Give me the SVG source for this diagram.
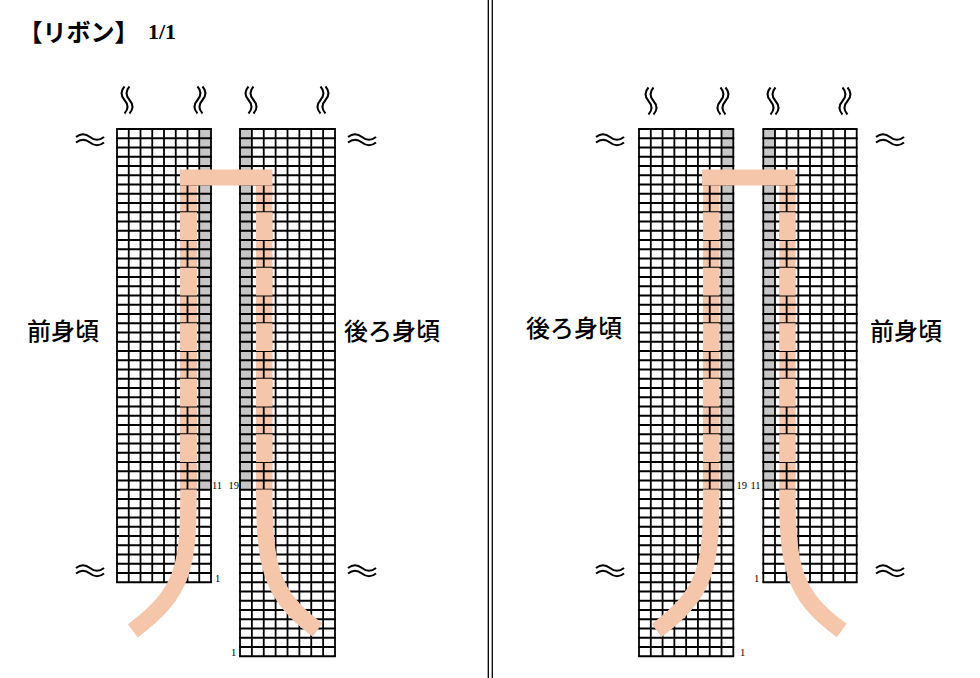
<svg xmlns="http://www.w3.org/2000/svg" width="980" height="678" viewBox="0 0 980 678">
<style>
.grid{fill:none;stroke:#000;stroke-width:1.8}
.hl{fill:none;stroke:#000;stroke-dasharray:1.8 7.45}
.cell{fill:#fff}
.gray{fill:#c6c6c6}
.rib{fill:#f6c6ab}
.tail{fill:none;stroke:#f6c6ab;stroke-width:16.5;stroke-linecap:butt}
.brk{fill:none;stroke:#000;stroke-width:2}
.jp{font-family:"Noto Sans CJK JP","Noto Sans",sans-serif;fill:#000}
.lbl{font-size:24px;font-weight:500}
.num{font-family:"Liberation Serif","Times New Roman",serif;font-size:10.5px;fill:#000}
.div{stroke:#000;stroke-width:1.3}
</style>
<defs>
<path id="hw" d="M0,0Q7,-5.5 14,0T28,0M0,5.5Q7,0 14,5.5T28,5.5"/>
<path id="vw" d="M0,0Q-6,6.75 0,13.5T0,27M5,0Q-1,6.75 5,13.5T5,27"/>
</defs>
<rect width="980" height="678" fill="#fff"/>

<g id="title">
<text class="jp" x="18.5" y="41" font-size="24" font-weight="bold">【リボン】</text>
<text x="148" y="39" font-family="'Liberation Serif','Times New Roman',serif" font-size="22" font-weight="bold">1/1</text>
</g>

<g id="divider">
<line class="div" x1="488.3" y1="0" x2="488.3" y2="678"/>
<line class="div" x1="492.3" y1="0" x2="492.3" y2="678"/>
</g>

<!-- LEFT PANEL -->
<g id="grid-front-left">
<rect class="cell" x="117" y="129" width="94" height="453.25"/>
<rect class="gray" x="199.25" y="129" width="11.75" height="360.75"/>
<rect class="rib" x="180" y="184.5" width="17" height="305.25"/>
<line class="hl" x1="164" y1="128.1" x2="164" y2="583.15" stroke-width="95.8"/>
<path class="grid" d="M117,129v453.25m11.75,-453.25v453.25m11.75,-453.25v453.25m11.75,-453.25v453.25m11.75,-453.25v453.25m11.75,-453.25v453.25m11.75,-453.25v453.25m11.75,-453.25v453.25m11.75,-453.25v453.25"/>
<text class="num" x="212" y="488.5">11</text>
<text class="num" x="215" y="582">1</text>
</g>

<g id="grid-back-left">
<rect class="cell" x="240" y="129" width="95" height="527.25"/>
<rect class="gray" x="240" y="129" width="11.875" height="360.75"/>
<rect class="rib" x="256" y="184.5" width="16.5" height="305.25"/>
<line class="hl" x1="287.5" y1="128.1" x2="287.5" y2="657.15" stroke-width="96.8"/>
<path class="grid" d="M240,129v527.25m11.875,-527.25v527.25m11.875,-527.25v527.25m11.875,-527.25v527.25m11.875,-527.25v527.25m11.875,-527.25v527.25m11.875,-527.25v527.25m11.875,-527.25v527.25m11.875,-527.25v527.25"/>
<text class="num" x="228.5" y="488.5">19</text>
<text class="num" x="231" y="656">1</text>
</g>

<g id="ribbon-left">
<rect class="rib" x="180" y="212.25" width="17" height="27.75"/>
<rect class="rib" x="180" y="267.75" width="17" height="27.75"/>
<rect class="rib" x="180" y="323.25" width="17" height="27.75"/>
<rect class="rib" x="180" y="378.75" width="17" height="27.75"/>
<rect class="rib" x="180" y="434.25" width="17" height="27.75"/>
<rect class="rib" x="256" y="212.25" width="16.5" height="27.75"/>
<rect class="rib" x="256" y="267.75" width="16.5" height="27.75"/>
<rect class="rib" x="256" y="323.25" width="16.5" height="27.75"/>
<rect class="rib" x="256" y="378.75" width="16.5" height="27.75"/>
<rect class="rib" x="256" y="434.25" width="16.5" height="27.75"/>
<rect class="rib" x="180" y="169.5" width="92.5" height="16"/>
<path class="tail" d="M188.5,489.5C188.5,565 185,592 132.8,630.8"/>
<path class="tail" d="M264.25,489.5C264.25,565 270,595 317.5,630"/>
</g>

<g id="marks-left">
<use href="#vw" class="brk" transform="translate(124.5,86.5)"/>
<use href="#vw" class="brk" transform="translate(202.5,86.5) scale(-1,1)"/>
<use href="#vw" class="brk" transform="translate(248.5,86.5)"/>
<use href="#vw" class="brk" transform="translate(325.5,86.5) scale(-1,1)"/>
<use href="#hw" class="brk" transform="translate(76,137)"/>
<use href="#hw" class="brk" transform="translate(348,137)"/>
<use href="#hw" class="brk" transform="translate(76,568)"/>
<use href="#hw" class="brk" transform="translate(348,568)"/>
</g>

<g id="label-front-left"><text class="jp lbl" x="27" y="340">前身頃</text></g>
<g id="label-back-left"><text class="jp lbl" x="344" y="340">後ろ身頃</text></g>

<!-- RIGHT PANEL -->
<g id="grid-back-right">
<rect class="cell" x="639" y="129" width="94.3" height="527.25"/>
<rect class="gray" x="721.51" y="129" width="11.79" height="360.75"/>
<rect class="rib" x="703" y="184.5" width="16.5" height="305.25"/>
<line class="hl" x1="686.15" y1="128.1" x2="686.15" y2="657.15" stroke-width="96.1"/>
<path class="grid" d="M639,129v527.25m11.7875,-527.25v527.25m11.7875,-527.25v527.25m11.7875,-527.25v527.25m11.7875,-527.25v527.25m11.7875,-527.25v527.25m11.7875,-527.25v527.25m11.7875,-527.25v527.25m11.7875,-527.25v527.25"/>
<text class="num" x="736.5" y="488.5">19</text>
<text class="num" x="740" y="656">1</text>
</g>

<g id="grid-front-right">
<rect class="cell" x="763.3" y="129" width="93.4" height="453.25"/>
<rect class="gray" x="763.3" y="129" width="11.675" height="360.75"/>
<rect class="rib" x="779.3" y="184.5" width="16.3" height="305.25"/>
<line class="hl" x1="810" y1="128.1" x2="810" y2="583.15" stroke-width="95.2"/>
<path class="grid" d="M763.3,129v453.25m11.675,-453.25v453.25m11.675,-453.25v453.25m11.675,-453.25v453.25m11.675,-453.25v453.25m11.675,-453.25v453.25m11.675,-453.25v453.25m11.675,-453.25v453.25m11.675,-453.25v453.25"/>
<text class="num" x="750.5" y="488.5">11</text>
<text class="num" x="754" y="582">1</text>
</g>

<g id="ribbon-right">
<rect class="rib" x="703" y="212.25" width="16.5" height="27.75"/>
<rect class="rib" x="703" y="267.75" width="16.5" height="27.75"/>
<rect class="rib" x="703" y="323.25" width="16.5" height="27.75"/>
<rect class="rib" x="703" y="378.75" width="16.5" height="27.75"/>
<rect class="rib" x="703" y="434.25" width="16.5" height="27.75"/>
<rect class="rib" x="779.3" y="212.25" width="16.3" height="27.75"/>
<rect class="rib" x="779.3" y="267.75" width="16.3" height="27.75"/>
<rect class="rib" x="779.3" y="323.25" width="16.3" height="27.75"/>
<rect class="rib" x="779.3" y="378.75" width="16.3" height="27.75"/>
<rect class="rib" x="779.3" y="434.25" width="16.3" height="27.75"/>
<rect class="rib" x="702" y="169.5" width="93.6" height="16"/>
<path class="tail" d="M711.25,489.5C711.25,565 708,592 656.7,630.5"/>
<path class="tail" d="M787.45,489.5C787.45,565 792,595 841.7,630.5"/>
</g>

<g id="marks-right">
<use href="#vw" class="brk" transform="translate(648.5,87.5)"/>
<use href="#vw" class="brk" transform="translate(725.5,87.5) scale(-1,1)"/>
<use href="#vw" class="brk" transform="translate(770.5,87.5)"/>
<use href="#vw" class="brk" transform="translate(847.5,87.5) scale(-1,1)"/>
<use href="#hw" class="brk" transform="translate(596,137)"/>
<use href="#hw" class="brk" transform="translate(876,137)"/>
<use href="#hw" class="brk" transform="translate(596,568)"/>
<use href="#hw" class="brk" transform="translate(876,568)"/>
</g>

<g id="label-back-right"><text class="jp lbl" x="526" y="337">後ろ身頃</text></g>
<g id="label-front-right"><text class="jp lbl" x="870" y="340">前身頃</text></g>
</svg>
